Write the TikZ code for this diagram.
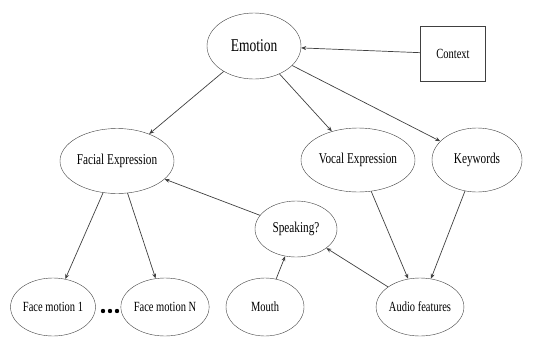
\documentclass[tikz,border=0pt]{standalone}
\usepackage{fontspec}
\setmainfont{Liberation Serif}[FakeStretch=0.75]
\usetikzlibrary{shapes.geometric, arrows.meta}

\begin{document}
\begin{tikzpicture}[x=1pt, y=-1pt,
    state/.style={draw=black!75, ellipse, inner sep=0pt, font=\fontsize{15}{17}\selectfont},
    leaf/.style={state, font=\fontsize{14}{16}\selectfont},
    link/.style={draw=black!75, line width=0.7pt, -{Stealth[length=5pt, width=4pt]}}]

    % Page size of the reference
    \useasboundingbox (0,0) rectangle (560,338);

    % Top row
    \node[state, minimum width=94pt, minimum height=66pt, font=\fontsize{18}{20}\selectfont] (emotion) at (254,46) {Emotion};
    \node[draw=black!75, minimum width=65pt, minimum height=55pt, font=\fontsize{14}{16}\selectfont] (context) at (453,54) {Context};

    % Middle row
    \node[state, minimum width=114pt, minimum height=65pt] (facial) at (117,161) {Facial Expression};
    \node[state, minimum width=114pt, minimum height=64pt] (vocal) at (358,160) {Vocal Expression};
    \node[state, minimum width=90pt, minimum height=64pt] (keywords) at (477,160) {Keywords};
    \node[state, minimum width=82pt, minimum height=56pt] (speaking) at (296,229) {Speaking?};

    % Bottom row
    \node[leaf, minimum width=78pt, minimum height=58pt] (face1) at (53,307) {Face motion 1};
    \node[leaf, minimum width=76pt, minimum height=58pt] (faceN) at (165,307) {Face motion N};
    \node[leaf, minimum width=78pt, minimum height=58pt] (mouth) at (265,307) {Mouth};
    \node[leaf, minimum width=80pt, minimum height=58pt] (audio) at (420,307) {Audio features};

    % Dots between the face motions
    \foreach \dx in {103,110,117}
        \fill (\dx,311) circle (2.2pt);

    % Connections
    \draw[link] (context) -- (emotion);
    \draw[link] (emotion) -- (facial);
    \draw[link] (emotion) -- (vocal);
    \draw[link] (emotion) -- (keywords);
    \draw[link] (facial) -- (face1);
    \draw[link] (facial) -- (faceN);
    \draw[link] (speaking) -- (facial);
    \draw[link] (mouth) -- (speaking);
    \draw[link] (audio) -- (speaking);
    \draw[link] (vocal) -- (audio);
    \draw[link] (keywords) -- (audio);
\end{tikzpicture}
\end{document}
